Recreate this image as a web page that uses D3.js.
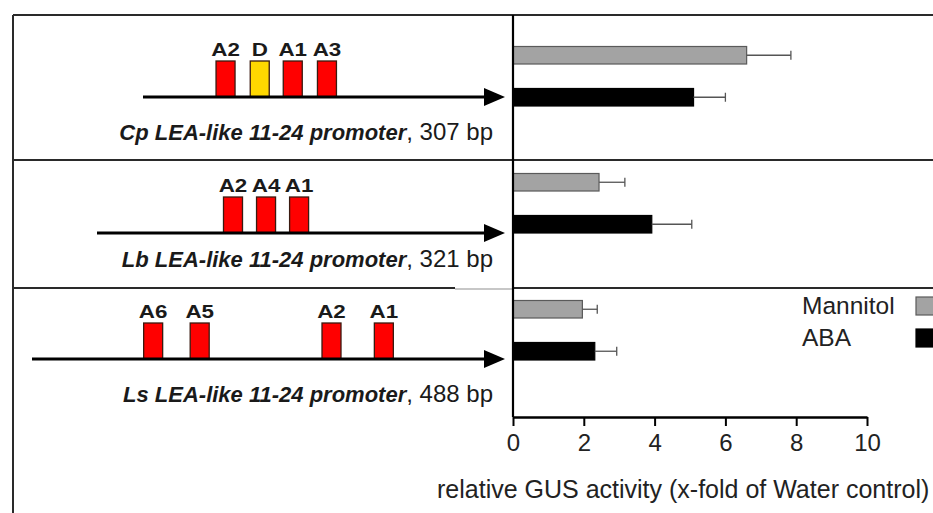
<!DOCTYPE html>
<html>
<head>
<meta charset="utf-8">
<script src="https://cdn.jsdelivr.net/npm/d3@7"></script>
<style>
  html, body { margin: 0; padding: 0; background: #fff; }
  svg { display: block; font-family: "Liberation Sans", Arial, Helvetica, sans-serif; }
</style>
</head>
<body>
<svg id="chart" width="933" height="513"></svg>
<script>
// ---- data ----
const groups = ["Cp", "Lb", "Ls"];
const series = ["Mannitol", "ABA"];
const mannitolMean = [6.6, 2.43, 1.96];
const mannitolErr  = [1.25, 0.73, 0.42];
const abaMean      = [5.1, 3.92, 2.31];
const abaErr       = [0.9, 1.13, 0.62];
const xTicks = [0, 2, 4, 6, 8, 10];

const promoterLength = [307, 321, 488];
const motifNames = [["A2", "D", "A1", "A3"], ["A2", "A4", "A1"], ["A6", "A5", "A2", "A1"]];
const motifPos   = [[70, 99, 127, 156], [107, 133, 159], [125, 173, 309, 363]];

const axisTitle = "relative GUS activity (x-fold of Water control)";

// ---- layout ----
const W = 933, H = 513;
const frameLeft = 13, frameTop = 15;
const rowEdges = [15, 160, 288, 417];
const arrowY = [97, 233, 359];
const arrowStart = [143, 97, 32];
const arrowEnd = 505;
const labelBase = [140, 267, 402];
const axisX0 = 513, axisX1 = 867, axisY = 417;

const colors = { Mannitol: "#a3a3a3", ABA: "#000000" };
const ink = "#1a1a1a";

const svg = d3.select("#chart");

// ---- scales ----
const x = d3.scaleLinear().domain([0, 10]).range([axisX0, axisX1]);
const yGroup = d3.scaleBand().domain(groups).range([12.75, 393.75]).padding(0);
const ySeries = d3.scaleBand().domain(series).range([33.75, 93.25]).paddingInner(0.583).paddingOuter(0);

// ---- frame ----
const frame = svg.append("g").attr("stroke", "#2a2a2a").attr("stroke-width", 2);
frame.append("line").attr("x1", frameLeft).attr("x2", W).attr("y1", frameTop).attr("y2", frameTop);
frame.append("line").attr("x1", frameLeft).attr("x2", frameLeft).attr("y1", frameTop).attr("y2", H);
frame.append("line").attr("x1", frameLeft).attr("x2", W).attr("y1", rowEdges[1]).attr("y2", rowEdges[1]);
// lower divider: the short piece next to the axis is drawn lighter
frame.append("line").attr("x1", frameLeft).attr("x2", 455).attr("y1", rowEdges[2]).attr("y2", rowEdges[2]);
frame.append("line").attr("x1", 455).attr("x2", axisX0).attr("y1", rowEdges[2] + 1).attr("y2", rowEdges[2] + 1)
  .attr("stroke", "#b5b5b5").attr("stroke-width", 1.5);
frame.append("line").attr("x1", axisX0).attr("x2", W).attr("y1", rowEdges[2]).attr("y2", rowEdges[2]);

// ---- promoter diagrams ----
groups.forEach((g, i) => {
  const row = svg.append("g");
  const px = d3.scaleLinear().domain([0, promoterLength[i]]).range([arrowStart[i], arrowEnd]);
  const y = arrowY[i];

  // motif boxes
  const motifs = motifNames[i].map((n, j) => ({ name: n, pos: motifPos[i][j] }));
  const boxW = 19, boxH = 36;
  row.selectAll("rect.motif").data(motifs).join("rect")
    .attr("class", "motif")
    .attr("x", d => px(d.pos) - boxW / 2)
    .attr("y", y - boxH)
    .attr("width", boxW).attr("height", boxH)
    .attr("fill", d => d.name.startsWith("D") ? "#ffd800" : "#ff0000")
    .attr("stroke", "#3a1a10").attr("stroke-width", 1.3);

  // motif names, set in a slightly widened bold face
  row.selectAll("text.motif").data(motifs).join("text")
    .attr("class", "motif")
    .attr("transform", d => `translate(${px(d.pos)},${y - boxH - 5}) scale(1.28,1)`)
    .attr("text-anchor", "middle")
    .attr("font-size", 17.5).attr("font-weight", "bold")
    .attr("fill", ink)
    .text(d => d.name);

  // arrow
  row.append("line")
    .attr("x1", px(0)).attr("x2", arrowEnd - 16)
    .attr("y1", y).attr("y2", y)
    .attr("stroke", "#000").attr("stroke-width", 3);
  row.append("path")
    .attr("d", `M${arrowEnd - 21},${y - 9} L${arrowEnd},${y} L${arrowEnd - 21},${y + 9} Z`)
    .attr("fill", "#000");

  // promoter caption
  const t = row.append("text")
    .attr("x", 493).attr("y", labelBase[i])
    .attr("text-anchor", "end")
    .attr("fill", ink);
  t.append("tspan").attr("font-size", 22).attr("font-weight", "bold").attr("font-style", "italic")
    .text(`${g} LEA-like 11-24 promoter`);
  t.append("tspan").attr("font-size", 24).text(`, ${promoterLength[i]} bp`);
});

// ---- bars ----
const barData = [];
groups.forEach((g, i) => {
  barData.push({ g, s: "Mannitol", v: mannitolMean[i], e: mannitolErr[i] });
  barData.push({ g, s: "ABA", v: abaMean[i], e: abaErr[i] });
});

const bars = svg.append("g");
bars.selectAll("rect").data(barData).join("rect")
  .attr("x", x(0))
  .attr("y", d => yGroup(d.g) + ySeries(d.s))
  .attr("width", d => x(d.v) - x(0))
  .attr("height", ySeries.bandwidth())
  .attr("fill", d => colors[d.s])
  .attr("stroke", d => d.s === "Mannitol" ? "#5a5a5a" : "#000")
  .attr("stroke-width", 1.2);

const err = svg.append("g").attr("stroke", "#555").attr("stroke-width", 1.3);
barData.forEach(d => {
  const cy = yGroup(d.g) + ySeries(d.s) + ySeries.bandwidth() / 2;
  err.append("line").attr("x1", x(d.v)).attr("x2", x(d.v + d.e)).attr("y1", cy).attr("y2", cy);
  err.append("line").attr("x1", x(d.v + d.e)).attr("x2", x(d.v + d.e)).attr("y1", cy - 4.5).attr("y2", cy + 4.5);
});

// ---- axes ----
svg.append("line")
  .attr("x1", axisX0).attr("x2", axisX0)
  .attr("y1", frameTop).attr("y2", axisY)
  .attr("stroke", "#000").attr("stroke-width", 2.2);

const xAxis = svg.append("g")
  .attr("transform", `translate(0,${axisY})`)
  .call(d3.axisBottom(x).tickValues(xTicks).tickSize(9).tickPadding(8).tickSizeOuter(0));
xAxis.select(".domain").attr("stroke", "#000").attr("stroke-width", 2.5);
xAxis.selectAll(".tick line").attr("stroke", "#000").attr("stroke-width", 2);
xAxis.selectAll(".tick text")
  .attr("font-size", 24).attr("fill", "#222")
  .attr("font-family", "'Liberation Sans', Arial, sans-serif");

svg.append("text")
  .attr("x", 437).attr("y", 498)
  .attr("font-size", 25).attr("fill", "#222")
  .text(axisTitle);

// ---- legend ----
const legend = svg.append("g");
const legendRows = series.map((s, i) => ({ s, base: 314 + i * 32 }));
legend.selectAll("text").data(legendRows).join("text")
  .attr("x", 802).attr("y", d => d.base)
  .attr("font-size", 24.5).attr("fill", "#222")
  .text(d => d.s);
legend.selectAll("rect").data(legendRows).join("rect")
  .attr("x", 916).attr("y", d => d.base - 17)
  .attr("width", 24).attr("height", 18)
  .attr("fill", d => colors[d.s])
  .attr("stroke", d => d.s === "Mannitol" ? "#5a5a5a" : "#000")
  .attr("stroke-width", 1.2);
</script>
</body>
</html>
